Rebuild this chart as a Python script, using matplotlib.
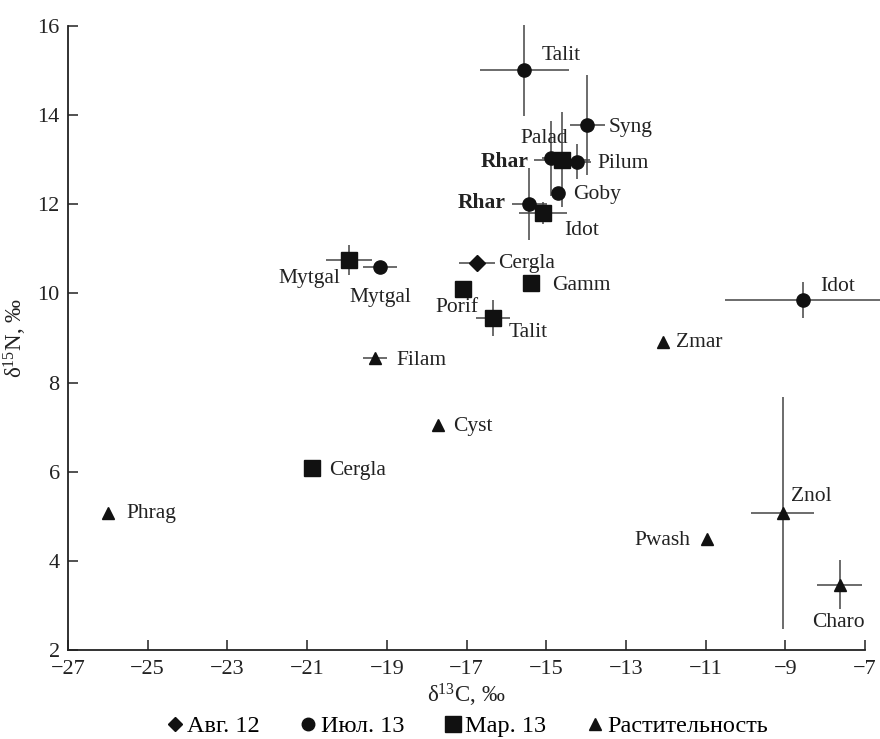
import matplotlib
matplotlib.use("Agg")
import matplotlib.pyplot as plt
from matplotlib.lines import Line2D

plt.rcParams['font.family'] = ['Liberation Serif', 'DejaVu Serif']
plt.rcParams['mathtext.fontset'] = 'custom'
plt.rcParams['mathtext.rm'] = 'Liberation Serif'
plt.rcParams['mathtext.it'] = 'Liberation Serif:italic'

# Aug 12 (diamonds)
aug_names = ["Cergla"]
aug_x = [-16.74]
aug_y = [10.68]
aug_xerr = [0.45]
aug_yerr = [0.0]

# Jul 13 (circles)
jul_names = ["Talit", "Syng", "Palad", "Pilum", "Goby", "Rhar", "Mytgal", "Idot"]
jul_x = [-15.55, -13.97, -14.89, -14.23, -14.70, -15.42, -19.17, -8.55]
jul_y = [15.01, 13.78, 13.03, 12.96, 12.26, 12.01, 10.60, 9.86]
jul_xerr = [1.12, 0.44, 0.22, 0.36, 0.0, 0.45, 0.42, 1.96]
jul_yerr = [1.02, 1.13, 0.85, 0.39, 0.0, 0.80, 0.0, 0.40]

# Mar 13 (squares)
mar_names = ["Rhar", "Idot", "Mytgal", "Porif", "Gamm", "Talit", "Cergla"]
mar_x = [-14.61, -15.09, -19.95, -17.10, -15.38, -16.34, -20.89]
mar_y = [13.00, 11.80, 10.75, 10.10, 10.23, 9.45, 6.08]
mar_xerr = [0.70, 0.60, 0.57, 0.0, 0.0, 0.43, 0.0]
mar_yerr = [1.07, 0.25, 0.33, 0.0, 0.0, 0.40, 0.0]

# vegetation (triangles)
veg_names = ["Zmar", "Filam", "Cyst", "Phrag", "Znol", "Pwash", "Charo"]
veg_x = [-12.06, -19.30, -17.71, -25.99, -9.07, -10.96, -7.64]
veg_y = [8.92, 8.55, 7.05, 5.07, 5.07, 4.49, 3.47]
veg_xerr = [0.0, 0.30, 0.0, 0.0, 0.79, 0.0, 0.57]
veg_yerr = [0.0, 0.0, 0.0, 0.0, 2.60, 0.0, 0.56]

legend_labels = ["Авг. 12", "Июл. 13", "Мар. 13", "Растительность"]

# label offsets in pixels (dx, dy, ha)
aug_off = [(21, 0, 'left')]
jul_off = [(17, 15, 'left'), (21, -3, 'left'), (-6, 20, 'center'), (21, -2, 'left'),
           (15, -2, 'left'), (-24, 1, 'right'), (0, -31, 'center'), (17, 13, 'left')]
mar_off = [(-33, -2, 'right'), (22, -17, 'left'), (-9, -18, 'right'), (-6, -19, 'center'),
           (21, -2, 'left'), (16, -15, 'left'), (18, -2, 'left')]
veg_off = [(13, -1, 'left'), (22, -2, 'left'), (15, -2, 'left'), (18, 0, 'left'),
           (8, 17, 'left'), (-17, -1, 'right'), (-1, -38, 'center')]

fig = plt.figure(figsize=(8.8, 7.39), dpi=100)
ax = fig.add_axes([0.0773, 0.1204, 0.9057, 0.8444])

groups = [
    (aug_names, aug_x, aug_y, aug_xerr, aug_yerr, 'D', 8, aug_off),
    (jul_names, jul_x, jul_y, jul_xerr, jul_yerr, 'o', 9.5, jul_off),
    (mar_names, mar_x, mar_y, mar_xerr, mar_yerr, 's', 11, mar_off),
    (veg_names, veg_x, veg_y, veg_xerr, veg_yerr, '^', 9, veg_off),
]

for names, xs, ys, xe, ye, mk, ms, offs in groups:
    eb = ax.errorbar(xs, ys, xerr=xe, yerr=ye, fmt=mk, ms=ms, color='#111111',
                     ecolor='#444444', elinewidth=1.1, capsize=0, zorder=3)
    for part in eb.lines[2]:
        part.set_clip_on(False)
    for n, x, y, (dx, dy, ha) in zip(names, xs, ys, offs):
        ax.annotate(n, (x, y), xytext=(dx, dy), textcoords='offset pixels',
                    ha=ha, va='center', fontsize=15.5, color='#222222',
                    fontweight='bold' if n == "Rhar" else 'normal')

ax.set_xlim(-27, -7)
ax.set_ylim(2, 16)
ax.set_xticks(range(-27, -6, 2))
ax.set_xticklabels(["\u2212" + str(abs(v)) for v in range(-27, -6, 2)])
ax.set_yticks(range(2, 17, 2))
ax.tick_params(direction='in', length=7, width=1.1, labelsize=16, colors='#222222')
ax.tick_params(axis='x', pad=7)
ax.tick_params(axis='y', pad=6)
for s in ['top', 'right']:
    ax.spines[s].set_visible(False)
for s in ['left', 'bottom']:
    ax.spines[s].set_linewidth(1.3)
    ax.spines[s].set_color('#222222')

ax.set_xlabel("δ$^{13}$C, ‰", fontsize=16.5, labelpad=2, color='#222222')
ax.set_ylabel("δ$^{15}$N, ‰", fontsize=16.5, labelpad=6, color='#222222')

handles = [Line2D([], [], marker=m, ls='none', color='#111111', ms=s)
           for m, s in [('D', 7), ('o', 9), ('s', 11), ('^', 8)]]
fig.legend(handles, legend_labels, loc='lower center', bbox_to_anchor=(0.53, -0.027),
           ncol=4, frameon=False, fontsize=17.5, handletextpad=0.1,
           columnspacing=1.6, handlelength=0.8)

fig.savefig("out.png", dpi=100)
